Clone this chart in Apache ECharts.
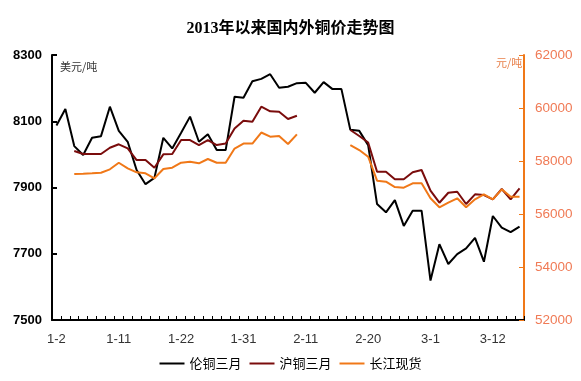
<!DOCTYPE html>
<html>
<head>
<meta charset="utf-8">
<script src="https://cdn.jsdelivr.net/npm/echarts@6/dist/echarts.min.js"></script>
<style>html,body{margin:0;padding:0;background:#fff}#c{width:581px;height:381px}</style>
</head>
<body>
<div id="c"></div>
<script>
var dates = ['1-2','1-3','1-4','1-7','1-8','1-9','1-10','1-11','1-14','1-15','1-16','1-17','1-18','1-21','1-22','1-23','1-24','1-25','1-28','1-29','1-30','1-31','2-1','2-4','2-5','2-6','2-7','2-8','2-11','2-12','2-13','2-14','2-15','2-18','2-19','2-20','2-21','2-22','2-25','2-26','2-27','2-28','3-1','3-4','3-5','3-6','3-7','3-8','3-11','3-12','3-13','3-14','3-15'];
var lmeCopper = [8087,8137,8025,7998,8050,8055,8144,8071,8038,7953,7910,7929,8050,8018,8065,8114,8038,8061,8013,8013,8174,8171,8221,8228,8242,8201,8204,8215,8216,8186,8218,8197,8197,8074,8071,8028,7850,7825,7862,7784,7830,7830,7619,7729,7669,7699,7716,7748,7676,7814,7779,7765,7782];
var shfeCopper = [null,null,58377,58264,58264,58264,58502,58630,58478,58037,58037,57747,58252,58264,58792,58792,58603,58792,58603,58660,59226,59520,59483,60049,59875,59860,59585,59709,null,null,null,null,null,59170,58943,58698,57596,57596,57309,57309,57573,57660,56879,56426,56803,56841,56377,56743,56716,56554,56943,56554,56969];
var changjiangSpot = [null,null,57509,57521,57536,57558,57686,57935,57724,57573,57536,57347,57698,57747,57935,57973,57913,58075,57935,57935,58471,58660,58660,59075,58917,58943,58641,59007,null,null,null,null,null,58603,58415,58162,57256,57218,57018,56992,57158,57158,56592,56252,56426,56592,56252,56554,56743,56554,56932,56652,56652];
var seriesNames = ['伦铜三月','沪铜三月','长江现货'];
var leftTicks = {min:7500, max:8300, interval:200};
var rightTicks = {min:52000, max:62000, interval:2000};

var chart = echarts.init(document.getElementById('c'));
var orange = '#F07818';
function plain(v){ return String(v); }
chart.setOption({
  animation:false,
  backgroundColor:'#fff',
  title:{text:'2013年以来国内外铜价走势图', left:'center', top:16,
    textStyle:{fontSize:16, fontWeight:'bold', color:'#000', fontFamily:'"Liberation Serif","Noto Sans CJK SC",serif'}},
  legend:{bottom:6, left:'center', itemWidth:25, itemHeight:2, itemGap:8,
    textStyle:{fontSize:13, color:'#000', fontFamily:'"Noto Sans CJK SC",sans-serif'},
    data:seriesNames, icon:'rect'},
  grid:{left:52, right:57, top:55, bottom:61, containLabel:false},
  graphic:[
    {type:'text', left:60, top:61, style:{text:'美元/吨', fontSize:11, fill:'#333', fontFamily:'"Noto Sans CJK SC",sans-serif'}},
    {type:'text', left:496, top:57, style:{text:'元/吨', fontSize:11, fill:'#E8804A', fontFamily:'"Noto Sans CJK SC",sans-serif'}}
  ],
  xAxis:{type:'category', data:dates, boundaryGap:true,
    axisLine:{lineStyle:{color:'#000', width:2}},
    axisTick:{show:true, inside:true, interval:0, length:4, lineStyle:{color:'#000', width:1}},
    axisLabel:{interval:6, color:'#333', fontSize:13, margin:13, fontFamily:'Arial,"Liberation Sans",sans-serif'},
    splitLine:{show:false}},
  yAxis:[
    {type:'value', min:leftTicks.min, max:leftTicks.max, interval:leftTicks.interval, position:'left',
      axisLine:{show:true, lineStyle:{color:'#000', width:2}},
      axisTick:{show:true, inside:true, length:5, lineStyle:{color:'#000', width:2}},
      axisLabel:{color:'#000', fontSize:13, fontWeight:'bold', margin:10, formatter:plain, fontFamily:'Arial,"Liberation Sans",sans-serif'},
      splitLine:{show:false}},
    {type:'value', min:rightTicks.min, max:rightTicks.max, interval:rightTicks.interval, position:'right',
      axisLine:{show:true, lineStyle:{color:orange, width:2}},
      axisTick:{show:true, inside:true, length:5, lineStyle:{color:orange, width:1}},
      axisLabel:{color:'#F07A55', fontSize:13.5, margin:11, formatter:plain, fontFamily:'Arial,"Liberation Sans",sans-serif'},
      splitLine:{show:false}}
  ],
  series:[
    {name:seriesNames[0], type:'line', yAxisIndex:0, data:lmeCopper, symbol:'none', lineStyle:{color:'#000', width:2}, itemStyle:{color:'#000'}},
    {name:seriesNames[1], type:'line', yAxisIndex:1, data:shfeCopper, symbol:'none', connectNulls:false, lineStyle:{color:'#7A0C0C', width:2}, itemStyle:{color:'#7A0C0C'}},
    {name:seriesNames[2], type:'line', yAxisIndex:1, data:changjiangSpot, symbol:'none', connectNulls:false, lineStyle:{color:orange, width:2}, itemStyle:{color:orange}}
  ]
});
</script>
</body>
</html>
